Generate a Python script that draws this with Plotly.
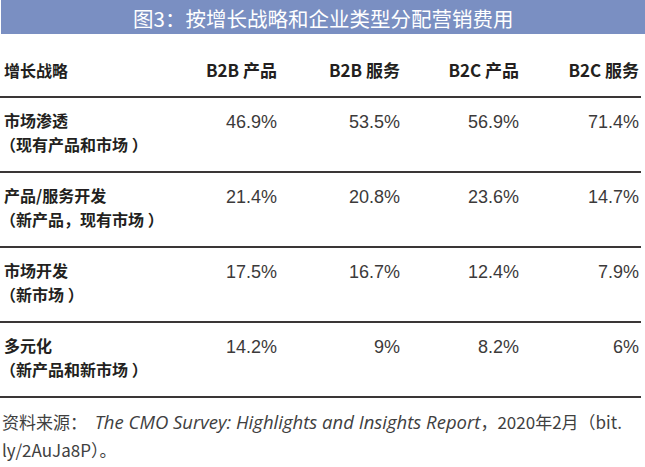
import plotly.graph_objects as go

title_text = "图3：按增长战略和企业类型分配营销费用"
header_label = "增长战略"
columns = ["B2B 产品", "B2B 服务", "B2C 产品", "B2C 服务"]
strategies = ["市场渗透", "产品/服务开发", "市场开发", "多元化"]
strategy_notes = ["（现有产品和市场 ）", "（新产品，现有市场 ）", "（新市场 ）", "（新产品和新市场 ）"]
b2b_product = [46.9, 21.4, 17.5, 14.2]
b2b_service = [53.5, 20.8, 16.7, 9]
b2c_product = [56.9, 23.6, 12.4, 8.2]
b2c_service = [71.4, 14.7, 7.9, 6]
source_prefix = "资料来源："
source_title = "The CMO Survey: Highlights and Insights Report"
source_suffix = "，2020年2月（bit."
source_line2 = "ly/2AuJa8P）。"

series = [b2b_product, b2b_service, b2c_product, b2c_service]

W, H = 645, 467
col_right = [277, 400, 519, 639]
header_y = 73
line_ys = [97, 172, 247, 322, 397]
label_x = 4

CJK = "Noto Sans CJK SC"
NUM = "Liberation Sans, Arial, sans-serif"
dark = "#231f20"
gray = "#3c3a3a"

fig = go.Figure()

# header
fig.add_trace(go.Scatter(
    x=[label_x], y=[header_y], mode="text", text=[header_label],
    textposition="middle right",
    textfont=dict(family=CJK, size=16, color=dark, weight="bold"),
    hoverinfo="skip", showlegend=False))
fig.add_trace(go.Scatter(
    x=col_right, y=[header_y] * len(columns), mode="text", text=columns,
    textposition="middle left",
    textfont=dict(family=CJK, size=17, color=dark, weight="bold"),
    hoverinfo="skip", showlegend=False))

# row labels
row_top = line_ys[:-1]
fig.add_trace(go.Scatter(
    x=[label_x] * len(strategies), y=[y + 26 for y in row_top], mode="text",
    text=strategies, textposition="middle right",
    textfont=dict(family=CJK, size=16, color=dark, weight="bold"),
    hoverinfo="skip", showlegend=False))
fig.add_trace(go.Scatter(
    x=[0] * len(strategy_notes), y=[y + 50 for y in row_top], mode="text",
    text=strategy_notes, textposition="middle right",
    textfont=dict(family=CJK, size=16, color=dark, weight="bold"),
    hoverinfo="skip", showlegend=False))

# values
for xr, vals in zip(col_right, series):
    fig.add_trace(go.Scatter(
        x=[xr] * len(vals), y=[y + 26 for y in row_top], mode="text",
        text=[f"{v:g}%" for v in vals], textposition="middle left",
        textfont=dict(family=NUM, size=18, color=gray),
        hoverinfo="skip", showlegend=False))

# source
fig.add_trace(go.Scatter(
    x=[2, 2], y=[425, 453], mode="text",
    text=[source_prefix + "  <i><span style='font-family:Open Sans;font-size:18.5px'>" + source_title + "</span></i>" + source_suffix,
          source_line2],
    textposition="middle right",
    textfont=dict(family=CJK, size=17, color="#404040"),
    hoverinfo="skip", showlegend=False))

shapes = [dict(type="rect", xref="x", yref="y", x0=1, x1=W, y0=0, y1=34,
               fillcolor="#7a8fc2", line=dict(width=0), layer="below")]
for y in line_ys:
    shapes.append(dict(type="line", xref="x", yref="y", x0=0, x1=641, y0=y, y1=y,
                       line=dict(color="#3a3636", width=2)))

fig.update_layout(
    width=W, height=H,
    margin=dict(l=0, r=0, t=0, b=0),
    paper_bgcolor="white", plot_bgcolor="white",
    xaxis=dict(range=[0, W], visible=False, fixedrange=True),
    yaxis=dict(range=[H, 0], visible=False, fixedrange=True),
    shapes=shapes,
    annotations=[dict(x=322.5, y=18, xref="x", yref="y", text=title_text,
                      showarrow=False, font=dict(family=CJK, size=20.5, color="white"))],
)

fig.write_html("out.html", config={"displayModeBar": False})
with open("out.html", "r", encoding="utf-8") as f:
    html = f.read()
html = html.replace("<head>", "<head><style>html,body{margin:0;padding:0;overflow:hidden}</style>", 1)
with open("out.html", "w", encoding="utf-8") as f:
    f.write(html)
